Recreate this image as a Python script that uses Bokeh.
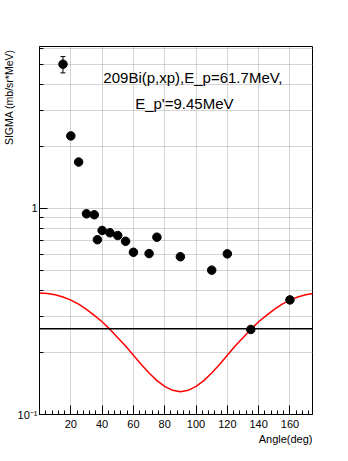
import numpy as np
from bokeh.plotting import figure
from bokeh.models import (Range1d, FixedTicker, Span, Label, Whisker,
                          ColumnDataSource, TeeHead, Title)
from bokeh.embed import file_html
from bokeh.resources import INLINE

# ---- data ----
angles = [15, 20, 25, 30, 35, 37, 40, 45, 50, 55, 60, 70, 75, 90, 110, 120, 135, 160]
sigma = [5.01, 2.25, 1.68, 0.942, 0.932, 0.705, 0.782, 0.762, 0.739, 0.693,
         0.613, 0.604, 0.725, 0.583, 0.502, 0.602, 0.2586, 0.360]

err_angle = [15]
err_low = [4.55]
err_high = [5.46]

fit_angle = [0, 5, 10, 15, 20, 25, 30, 35, 40, 45, 50, 55, 60, 65, 70, 75, 80, 85,
             90, 95, 100, 105, 110, 115, 120, 125, 130, 135, 140, 145, 150, 155,
             160, 165, 170, 175]
fit_sigma = [0.389, 0.387, 0.381, 0.372, 0.359, 0.343, 0.324, 0.303, 0.282,
             0.259, 0.236, 0.215, 0.194, 0.175, 0.159, 0.146, 0.137, 0.131,
             0.129, 0.131, 0.137, 0.146, 0.159, 0.175, 0.194, 0.215, 0.236,
             0.259, 0.282, 0.303, 0.324, 0.343, 0.359, 0.372, 0.381, 0.387]

ref_level = 0.2606

x_ticks = [20, 40, 60, 80, 100, 120, 140, 160]
x_minor = [4, 8, 12, 16, 24, 28, 32, 36, 44, 48, 52, 56, 64, 68, 72, 76,
           84, 88, 92, 96, 104, 108, 112, 116, 124, 128, 132, 136,
           144, 148, 152, 156, 164, 168, 172]
y_ticks = [0.1, 1]
y_minor = [0.2, 0.3, 0.4, 0.5, 0.6, 0.7, 0.8, 0.9, 2, 3, 4, 5, 6]
y_tick_labels = {0.1: "10\u207b\u00b9", 1: "1"}

title_line1 = "209Bi(p,xp),E_p=61.7MeV,"
title_line2 = "E_p'=9.45MeV"
x_title = "Angle(deg)"
y_title = "SIGMA  (mb/sr*MeV)"

FONT = "Liberation Sans"
GRID = "#a8a8a8"

p = figure(width=338, height=450,
           x_range=Range1d(0, 174.4), y_range=Range1d(0.1, 6.11),
           y_axis_type="log", output_backend="svg", toolbar_location=None,
           min_border_left=33, min_border_right=26,
           min_border_top=46, min_border_bottom=36)
p.background_fill_color = "white"
p.border_fill_color = "white"
p.outline_line_color = "black"
p.outline_line_width = 1

# axes
p.xaxis.ticker = FixedTicker(ticks=x_ticks, minor_ticks=x_minor)
p.yaxis.ticker = FixedTicker(ticks=y_ticks, minor_ticks=y_minor)
p.yaxis.major_label_overrides = y_tick_labels
for ax in (p.xaxis[0], p.yaxis[0]):
    ax.axis_line_color = "black"
    ax.major_tick_line_color = "black"
    ax.minor_tick_line_color = "black"
    ax.major_tick_out = 0
    ax.minor_tick_out = 0
    ax.major_label_text_font = FONT
    ax.major_label_text_font_size = "11px"
    ax.major_label_text_color = "black"
p.xaxis.major_tick_in = 9
p.xaxis.minor_tick_in = 4
p.xaxis.major_label_standoff = 5
p.yaxis.major_tick_in = 8
p.yaxis.minor_tick_in = 4
p.yaxis.major_label_standoff = 2

# axis titles as side-panel titles (aligned to the axis ends)
p.add_layout(Title(text=x_title, align="right", text_font=FONT,
                   text_font_size="11px", text_font_style="normal",
                   text_color="black", standoff=0), "below")
p.add_layout(Title(text=y_title, align="right", text_font=FONT,
                   text_font_size="10.5px", text_font_style="normal",
                   text_color="black", standoff=0), "left")

# grids
p.xgrid.grid_line_color = GRID
p.xgrid.grid_line_dash = "1 1"
p.xgrid.minor_grid_line_color = None
p.ygrid.grid_line_color = GRID
p.ygrid.grid_line_dash = "1 1"
p.ygrid.minor_grid_line_color = GRID
p.ygrid.minor_grid_line_dash = "1 1"

# reference horizontal line
p.add_layout(Span(location=ref_level, dimension="width",
                  line_color="black", line_width=1.5))

# fit curve
p.line(fit_angle, fit_sigma, line_color="#ff0000", line_width=1.5)

# error bar
err_src = ColumnDataSource(dict(x=err_angle, lo=err_low, hi=err_high))
p.add_layout(Whisker(base="x", lower="lo", upper="hi", source=err_src,
                     dimension="height", line_color="black", line_width=1,
                     lower_head=TeeHead(size=5, line_color="black"),
                     upper_head=TeeHead(size=5, line_color="black")))

# data points
p.scatter(angles, sigma, size=8.5, marker="circle",
          fill_color="black", line_color="black")

# texts inside the frame
p.add_layout(Label(x=40.8, y=4.34, text=title_line1, text_font=FONT,
                   text_font_size="15px", text_color="black",
                   text_align="left", text_baseline="alphabetic"))
p.add_layout(Label(x=61.1, y=3.24, text=title_line2, text_font=FONT,
                   text_font_size="15px", text_color="black",
                   text_align="left", text_baseline="alphabetic"))

open("out.html", "w").write(file_html(p, INLINE))
